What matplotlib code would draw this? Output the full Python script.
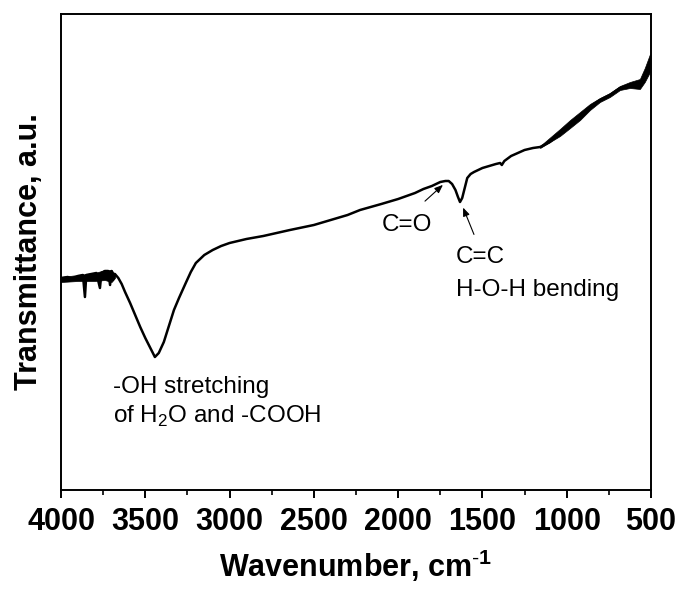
import numpy as np
import matplotlib.pyplot as plt
from matplotlib.ticker import MultipleLocator

plt.rcParams['font.family'] = ['Liberation Sans', 'DejaVu Sans']
plt.rcParams['mathtext.fontset'] = 'custom'
plt.rcParams['mathtext.rm'] = 'Liberation Sans'
plt.rcParams['mathtext.bf'] = 'Liberation Sans:bold'

# spectrum (transmittance in arbitrary units)
wavenumber = [4000, 3960, 3930, 3900, 3870, 3858, 3850, 3820, 3790, 3769,
              3760, 3740, 3720, 3709, 3700, 3692, 3680, 3660, 3640, 3620,
              3590, 3560, 3530, 3500, 3470, 3443, 3420, 3390, 3360, 3330,
              3300, 3260, 3230, 3200, 3150, 3100, 3050, 3000, 2900, 2800,
              2642, 2500, 2400, 2300, 2226, 2100, 2000, 1900, 1850, 1800,
              1750, 1720, 1700, 1680, 1660, 1645, 1633, 1620, 1605, 1590,
              1570, 1550, 1500, 1460, 1420, 1395, 1385, 1370, 1330, 1290,
              1250, 1200, 1158, 1100, 1040, 980, 921, 862, 803, 744,
              684, 625, 566, 537, 506]
transmittance = [212, 213, 211, 214, 215, 193, 215, 216, 217, 202,
                 217, 219, 219, 205, 219, 210, 216, 212, 206, 198,
                 187, 175, 163, 152, 142, 133, 137, 148, 164, 180,
                 192, 207, 218, 227, 235, 240, 244, 247, 251, 254,
                 260, 265, 270, 275, 280, 286, 291, 297, 301, 304,
                 308, 309, 309, 306, 300, 293, 288, 292, 302, 312,
                 316, 318, 322, 324, 326, 327, 325, 329, 334, 337,
                 340, 342, 343, 348, 357, 366, 374, 383, 390, 395,
                 402, 405, 406, 415, 428]

# noisy bands (upper / lower envelope)
band1_wn = [4000, 3900, 3800, 3740, 3700, 3680]
band1_hi = [213, 215, 217, 220, 220, 216]
band1_lo = [208, 209, 209, 210, 208, 212]

band2_wn = [1158, 1040, 980, 921, 862, 803, 744, 684, 625, 566, 537, 506]
band2_hi = [344, 361, 370, 378, 386, 392, 397, 404, 408, 411, 422, 436]
band2_lo = [342, 354, 362, 370, 380, 388, 393, 400, 402, 401, 408, 418]

fig = plt.figure(figsize=(6.81, 5.90), dpi=100)
ax = fig.add_axes([61 / 681, 100 / 590, 590 / 681, 476 / 590])

ax.plot(wavenumber, transmittance, color='black', lw=1.8)
ax.fill_between(band1_wn, band1_lo, band1_hi, color='black', lw=0.5)
ax.fill_between(band2_wn, band2_lo, band2_hi, color='black', lw=0.5)

ax.set_xlim(4000, 500)
ax.set_ylim(0, 476)
ax.xaxis.set_major_locator(MultipleLocator(500))
ax.xaxis.set_minor_locator(MultipleLocator(250))
ax.set_yticks([])
ax.tick_params(axis='x', which='major', direction='out', length=6, width=1.4,
               labelsize=22, pad=6)
ax.tick_params(axis='x', which='minor', direction='out', length=3.5, width=1.2)
for lab in ax.get_xticklabels():
    lab.set_fontweight('bold')
for sp in ax.spines.values():
    sp.set_linewidth(1.4)

ax.set_xlabel(r'Wavenumber, cm$^{\mathbf{\text{-}1}}$', fontsize=22, fontweight='bold', labelpad=8)
ax.set_ylabel('Transmittance, a.u.', fontsize=22, fontweight='bold', labelpad=12)

fs = 17.5
ax.text(3692, 97, '-OH stretching', fontsize=fs, va='baseline')
ax.text(3692, 67, r'of H$_2$O and -COOH', fontsize=fs, va='baseline')
ax.text(2096, 259, 'C=O', fontsize=fs, va='baseline')
ax.text(1657, 227, 'C=C', fontsize=fs, va='baseline')
ax.text(1657, 194, 'H-O-H bending', fontsize=fs, va='baseline')

arrow = dict(arrowstyle='-|>,head_length=0.5,head_width=0.2', color='black', lw=0.8)
ax.annotate('', xy=(1722, 307), xytext=(1853, 287), arrowprops=arrow)
ax.annotate('', xy=(1621, 285), xytext=(1544, 253), arrowprops=arrow)

fig.savefig('out.png', dpi=100)
